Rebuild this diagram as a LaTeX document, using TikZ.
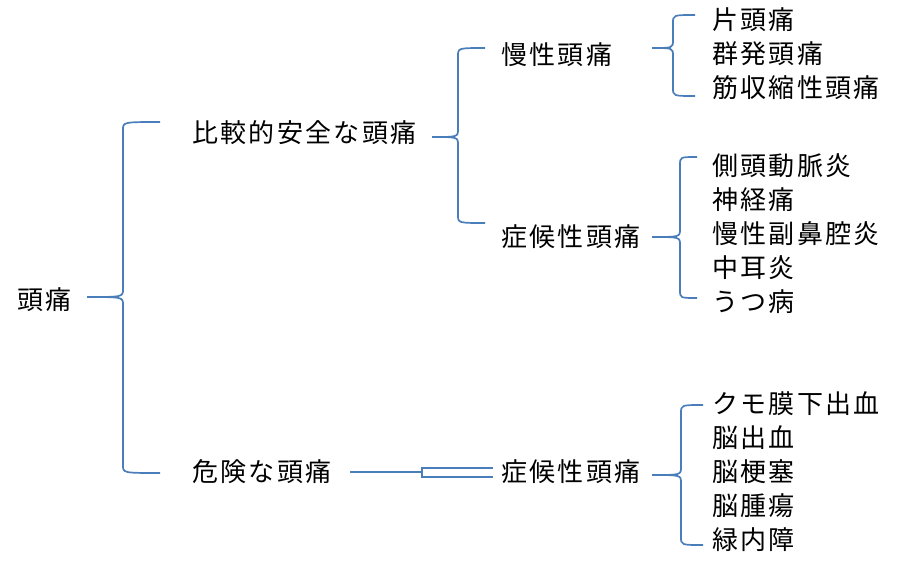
\documentclass[tikz,border=0pt]{standalone}
\usepackage{fontspec}
\setmainfont{Noto Sans CJK JP}[LetterSpace=9]
\usetikzlibrary{calc}
\definecolor{braceblue}{RGB}{74,126,187}

% curly bracket: tip, top end, bottom end, spine
\newcommand{\curly}[4]{%
  \draw[brace] (#2) .. controls (#2 -| #4) .. ($(#2 -| #4)+(0,8)$)
    -- ($(#1 -| #4)+(0,-8)$) .. controls (#1 -| #4) .. (#1)
    .. controls (#1 -| #4) .. ($(#1 -| #4)+(0,8)$)
    -- ($(#3 -| #4)+(0,-8)$) .. controls (#3 -| #4) .. (#3);}

\tikzset{
  term/.style={anchor=west, inner sep=0pt, font=\fontsize{26}{31}\selectfont},
  brace/.style={draw=braceblue, line width=1.7pt},
}

\begin{document}
\begin{tikzpicture}[x=1pt, y=-1pt]
    \useasboundingbox (0,0) rectangle (901,565);

    % headings
    \node[term] (zutsu) at (17,300) {頭痛};
    \node[term] (anzen) at (192,133) {比較的安全な頭痛};
    \node[term] (kiken) at (192,472) {危険な頭痛};
    \node[term] (mansei) at (501,55) {慢性頭痛};
    \node[term] (shoko) at (501,237) {症候性頭痛};
    \node[term] (shokob) at (501,472) {症候性頭痛};

    % leaves
    \foreach \name [count=\i] in {片頭痛,群発頭痛,筋収縮性頭痛}
        \node[term] (m\i) at (712,{20+34*(\i-1)}) {\name};
    \foreach \name [count=\i] in {側頭動脈炎,神経痛,慢性副鼻腔炎,中耳炎,うつ病}
        \node[term] (s\i) at (712,{166+34*(\i-1)}) {\name};
    \foreach \name [count=\i] in {クモ膜下出血,脳出血,脳梗塞,脳腫瘍,緑内障}
        \node[term] (d\i) at (712,{404+34*(\i-1)}) {\name};

    % bracket points
    \coordinate (tipA) at (87,297);   \coordinate (topA) at (160,122);
    \coordinate (botA) at (160,473);  \coordinate (spA) at (123,0);
    \coordinate (tipB) at (432,137);  \coordinate (topB) at (485,48);
    \coordinate (botB) at (485,223);  \coordinate (spB) at (458,0);
    \coordinate (tipC) at (652,48);   \coordinate (topC) at (695,15);
    \coordinate (botC) at (695,96);   \coordinate (spC) at (673,0);
    \coordinate (tipD) at (652,237);  \coordinate (topD) at (697,157);
    \coordinate (botD) at (697,298);  \coordinate (spD) at (680,0);
    \coordinate (tipE) at (652,475);  \coordinate (topE) at (703,405);
    \coordinate (botE) at (703,545);  \coordinate (spE) at (681,0);
    \coordinate (tipF) at (350,472);  \coordinate (topF) at (493,468);
    \coordinate (botF) at (493,477);  \coordinate (spF) at (422,0);

    \curly{tipA}{topA}{botA}{spA}
    \curly{tipB}{topB}{botB}{spB}
    \curly{tipC}{topC}{botC}{spC}
    \curly{tipD}{topD}{botD}{spD}
    \curly{tipE}{topE}{botE}{spE}
    \draw[brace] (tipF) -- (tipF -| spF) |- (topF) (tipF -| spF) |- (botF);
\end{tikzpicture}
\end{document}
